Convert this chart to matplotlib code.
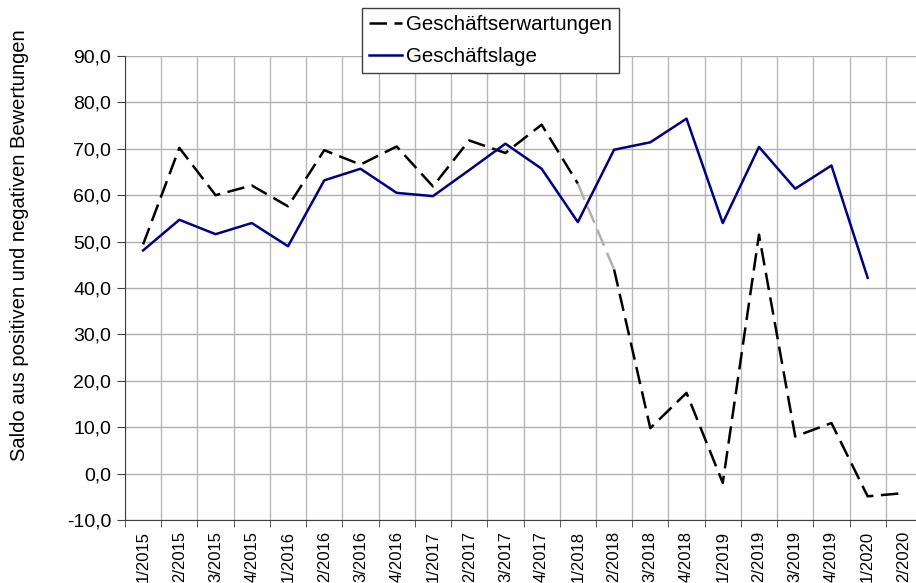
import numpy as np
import matplotlib
matplotlib.use("Agg")
import matplotlib.pyplot as plt
from matplotlib.ticker import FuncFormatter

plt.rcParams['font.family'] = ['Liberation Sans', 'DejaVu Sans']

# Quartale
quartale = ['1/2015', '2/2015', '3/2015', '4/2015',
            '1/2016', '2/2016', '3/2016', '4/2016',
            '1/2017', '2/2017', '3/2017', '4/2017',
            '1/2018', '2/2018', '3/2018', '4/2018',
            '1/2019', '2/2019', '3/2019', '4/2019',
            '1/2020', '2/2020']

# Saldo Geschäftserwartungen
erwartungen = [49.4, 70.2, 60.0, 62.1, 57.6, 69.7, 66.6, 70.5, 61.9, 71.8, 69.1, 75.2,
               62.5, 44.0, 9.8, 17.4, -2.0, 51.5, 8.0, 10.9, -4.9, -4.2]

# Saldo Geschäftslage (2/2020 fehlt)
lage = [48.1, 54.7, 51.6, 54.0, 49.0, 63.2, 65.7, 60.5, 59.8, 65.4, 71.1, 65.7,
        54.2, 69.8, 71.4, 76.5, 54.0, 70.4, 61.4, 66.4, 42.2, np.nan]

x = np.arange(len(quartale))
erw = np.array(erwartungen)

fig = plt.figure(figsize=(9.16, 5.83), dpi=100)
ax = fig.add_axes([125 / 916, 1 - 520 / 583, 797 / 916, 464 / 583])

dash = (0, (7, 3))
# Erwartungen: Teilstück 1/2018 -> 2/2018 grau
ax.plot(x[:13], erw[:13], color='black', lw=1.8, ls=dash, label='Geschäftserwartungen')
ax.plot(x[12:14], erw[12:14], color='#b0b0b0', lw=1.8, ls=dash)
ax.plot(x[13:], erw[13:], color='black', lw=1.8, ls=dash)
ax.plot(x, lage, color='#000080', lw=1.8, label='Geschäftslage')

ax.set_xlim(-0.5, len(quartale) - 0.5)
ax.set_ylim(-10, 90)
ax.set_yticks(np.arange(-10, 91, 10))
ax.yaxis.set_major_formatter(FuncFormatter(lambda v, p: f'{v:.1f}'.replace('.', ',')))

ax.set_xticks(x)
ax.set_xticklabels(quartale, rotation=90)
ax.set_xticks(np.arange(-0.5, len(quartale), 1), minor=True)
ax.tick_params(axis='x', which='major', length=0, labelsize=12, pad=8)
ax.tick_params(axis='x', which='minor', length=5, color='#404040')
ax.tick_params(axis='y', labelsize=14, length=6, color='#404040', pad=4)

ax.grid(True, axis='y', color='#b0b0b0', lw=1)
ax.grid(True, axis='x', which='minor', color='#b8b8b8', lw=1)
ax.set_axisbelow(True)

for s in ['top', 'right']:
    ax.spines[s].set_visible(False)
ax.spines['left'].set_color('#404040')
ax.spines['bottom'].set_color('#404040')

ax.set_ylabel('Saldo aus positiven und negativen Bewertungen', fontsize=14.5)
ax.yaxis.set_label_coords(-0.121, 0.593)

leg = ax.legend(loc='upper left', bbox_to_anchor=(237 / 797, 1.103), fontsize=14.8,
                frameon=True, fancybox=False, framealpha=1, edgecolor='#404040',
                handlelength=1.6, handletextpad=0.2, borderpad=0.35, labelspacing=0.6,
                borderaxespad=0)
leg.get_frame().set_linewidth(1)

fig.savefig('out.png', dpi=100)
